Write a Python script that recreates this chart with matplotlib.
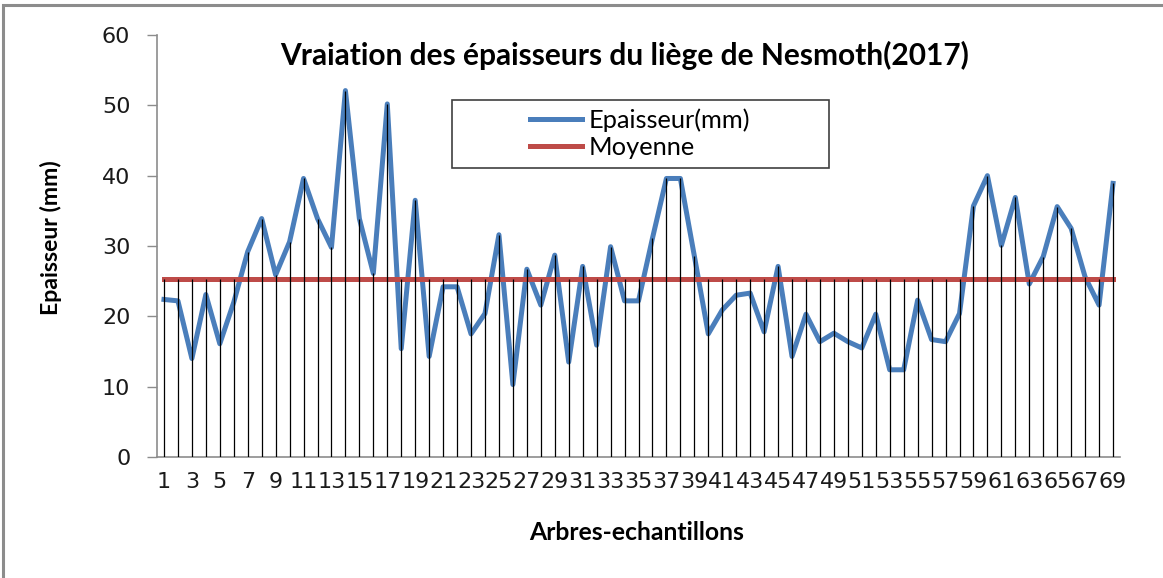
import numpy as np
import matplotlib.pyplot as plt
from matplotlib.patches import Rectangle
from matplotlib.lines import Line2D

# épaisseur du liège par arbre (mm)
arbres = list(range(1, 70))
epaisseur = [22.4, 22.2, 14.0, 23.1, 16.1, 22.0, 29.2, 33.9, 25.9, 30.6,
             39.6, 33.9, 29.8, 52.1, 33.9, 26.1, 50.2, 15.4, 36.5, 14.3,
             24.2, 24.2, 17.5, 20.4, 31.6, 10.3, 26.7, 21.6, 28.7, 13.5,
             27.1, 15.9, 29.9, 22.2, 22.2, 31.1, 39.6, 39.6, 28.6, 17.5,
             20.9, 23.0, 23.3, 17.8, 27.1, 14.3, 20.3, 16.4, 17.6, 16.4,
             15.5, 20.3, 12.4, 12.4, 22.3, 16.7, 16.4, 20.4, 35.7, 40.0,
             30.1, 36.9, 24.6, 28.5, 35.6, 32.5, 25.6, 21.6, 38.9]
moyenne = [np.mean(epaisseur)] * len(arbres)
xticks = list(range(1, 70, 2))
yticks = [0, 10, 20, 30, 40, 50, 60]

plt.rcParams['font.family'] = ['Lato', 'DejaVu Sans']

W, H = 1163, 578
fig = plt.figure(figsize=(W / 100, H / 100), dpi=100)
ax = fig.add_axes([157 / W, 1 - 457 / H, (1120 - 157) / W, (457 - 35) / H])

def fx(px):
    return px / W

def fy(py):
    return 1 - py / H

blue = '#4a7ebb'
red = '#be4b48'
gray = '#8c8c8c'

ax.plot(arbres, epaisseur, color=blue, lw=3.6, zorder=2)
ax.plot(arbres, moyenne, color=red, lw=3.6, zorder=3)
ax.vlines(arbres, 0, np.maximum(epaisseur, moyenne), color='black', lw=0.9, zorder=4)

ax.set_xlim(0.5, 69.5)
ax.set_ylim(0, 60)
ax.set_xticks(xticks)
ax.set_xticklabels([str(v) for v in xticks], family='DejaVu Sans')
ax.set_yticks(yticks)
ax.set_yticklabels([str(v) for v in yticks], family='DejaVu Sans')
for s in ['top', 'right']:
    ax.spines[s].set_visible(False)
for s in ['left', 'bottom']:
    ax.spines[s].set_color(gray)
    ax.spines[s].set_linewidth(1.2)
ax.tick_params(axis='x', length=0, pad=11, labelsize=16, colors='#1a1a1a')
ax.tick_params(axis='y', length=7.2, width=1.0, color=gray, pad=12, labelsize=16)
ax.tick_params(axis='y', labelcolor='#1a1a1a')

fig.text(fx(625), fy(55), 'Vraiation des épaisseurs du liège de Nesmoth(2017)',
         ha='center', va='center', fontsize=21.5, fontweight='bold')
fig.text(fx(637), fy(533), 'Arbres-echantillons', ha='center', va='center',
         fontsize=17.8, fontweight='bold')
fig.text(fx(51), fy(238), 'Epaisseur (mm)', ha='center', va='center',
         rotation=90, fontsize=16.6, fontweight='bold')

# cadre de la légende
fig.patches.append(Rectangle((fx(452), fy(168)), fx(829) - fx(452), fy(100) - fy(168),
                             transform=fig.transFigure, fill=False,
                             edgecolor='#404040', lw=1.2))
handles = [Line2D([], [], color=blue, lw=3.6), Line2D([], [], color=red, lw=3.6)]
fig.legend(handles, ['Epaisseur(mm)', 'Moyenne'], loc='center',
           bbox_to_anchor=(fx(640), fy(134)), frameon=False, fontsize=18.3,
           handlelength=2.05, handletextpad=0.25, labelspacing=0.15, borderpad=0)

# bordure de la zone du graphique
fig.patches.append(Rectangle((fx(3), -0.1), 1.2, fy(5) + 0.1,
                             transform=fig.transFigure, fill=False,
                             edgecolor=gray, lw=2.2))

fig.savefig('out.png', dpi=100)
